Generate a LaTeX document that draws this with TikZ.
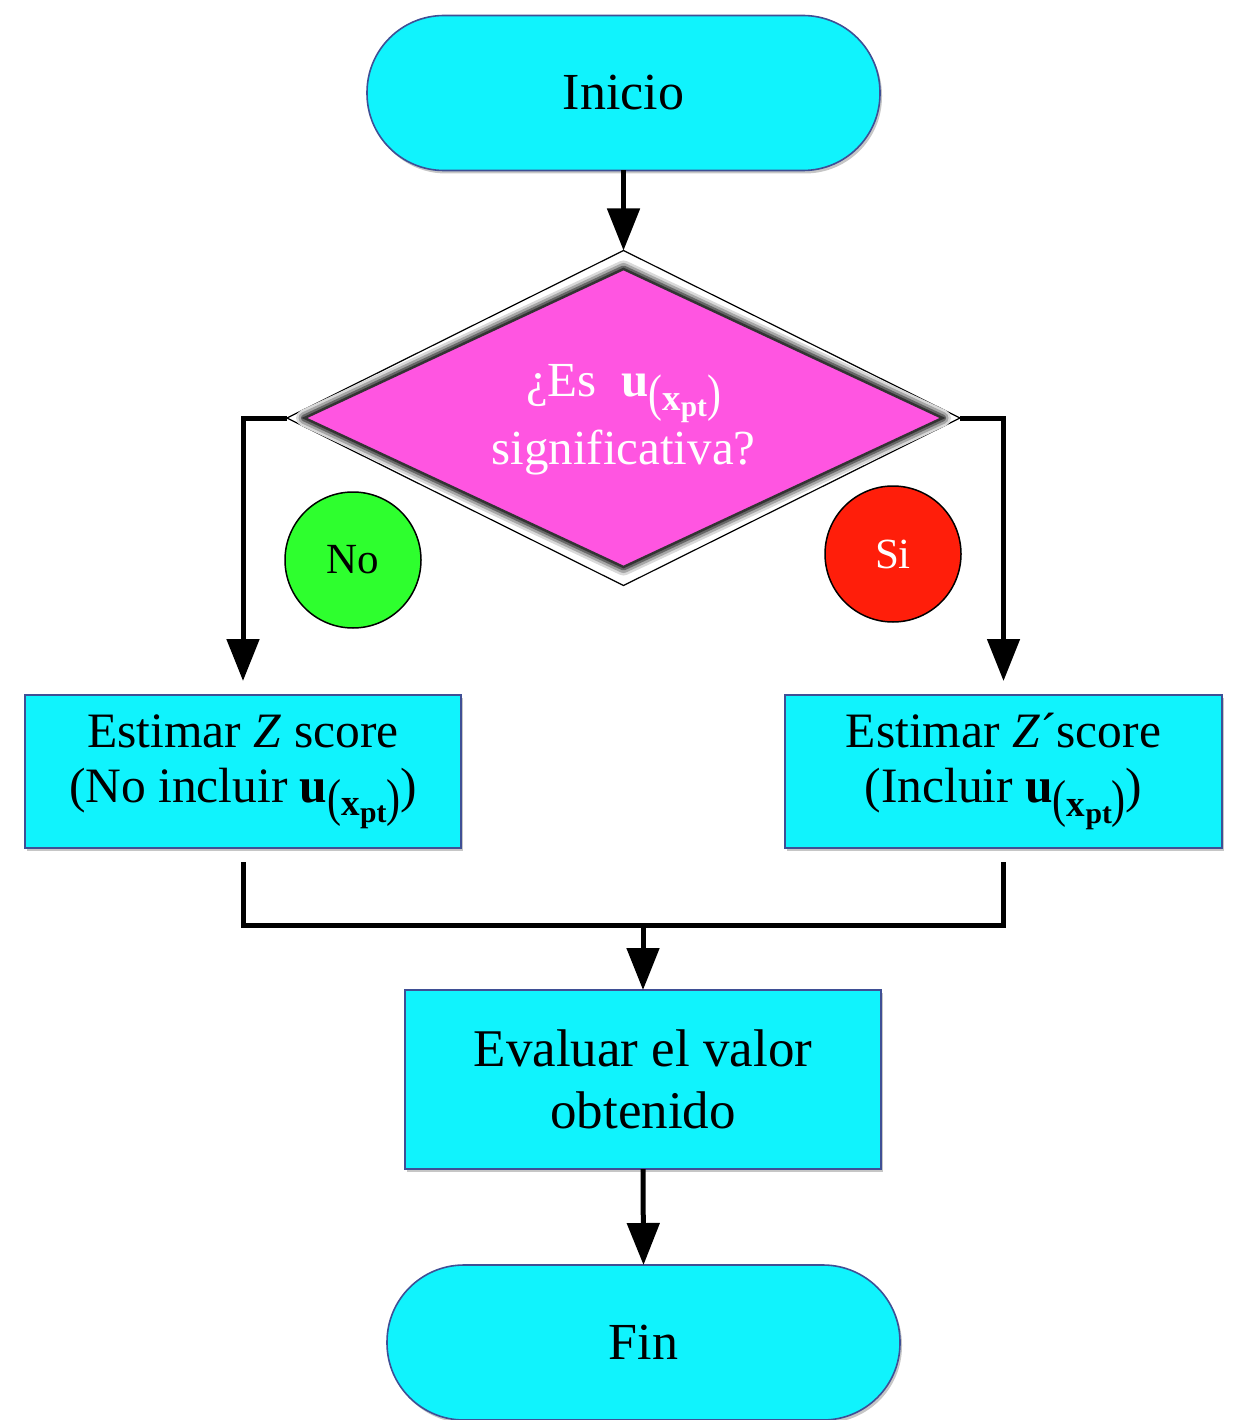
\documentclass[tikz,border=0pt]{standalone}
\usepackage{fontspec}
\setmainfont{Liberation Serif}
\usetikzlibrary{shapes.geometric,arrows.meta,shadows}
\definecolor{cyanbox}{HTML}{10F3FD}
\definecolor{boxline}{HTML}{3F4F95}
\definecolor{magbox}{HTML}{FF55E1}
\definecolor{nogreen}{HTML}{2EFF2E}
\definecolor{sired}{HTML}{FF1E0A}
\newcommand\uxpt{\textbf{u}\raisebox{-0.6ex}{\scalebox{0.85}[1.05]{(}\scalebox{0.75}{\textbf{x}\raisebox{-0.4ex}{\scalebox{0.8}{\textbf{pt}}}}\scalebox{0.85}[1.05]{)}}}
\begin{document}
\begin{tikzpicture}[x=1pt,y=-1pt,
  shadowed/.style={drop shadow={shadow xshift=2pt,shadow yshift=-3pt,opacity=0.45}},
  pill/.style={draw=boxline,line width=1.6pt,fill=cyanbox,rounded corners=77pt,
    minimum width=513pt,minimum height=155pt,inner sep=0pt,outer sep=0pt,
    font=\fontsize{52pt}{60pt}\selectfont,shadowed},
  procbox/.style={draw=boxline,line width=1.6pt,fill=cyanbox,align=center,
    inner sep=0pt,outer sep=0pt,shadowed},
  flowline/.style={line width=5pt,black},
  arr/.style={flowline,-{Triangle[width=32pt,length=42pt]}},
  badge/.style={circle,draw=black,line width=1.5pt,minimum size=136pt,inner sep=0pt,
    font=\fontsize{43pt}{48pt}\selectfont}
]
\useasboundingbox (0,0) rectangle (1235,1420);

% start
\node[pill] (ini) at (623.5,93) {Inicio};

% decision
\node[diamond,draw=black,line width=1.2pt,fill=white,minimum width=673pt,
  minimum height=335pt,inner sep=0pt,outer sep=0pt] (dia) at (623.5,418) {};
\node[diamond,aspect=2.14,fill=magbox,draw=black!80,line width=2.5pt,
  minimum width=638pt,minimum height=298pt,inner sep=0pt,outer sep=0pt,
  preaction={draw=black!15,line width=17pt,line join=round},
  preaction={draw=black!35,line width=12pt,line join=round},
  preaction={draw=black!60,line width=7pt,line join=round}] (diain) at (623.5,418) {};
\node[text=white,align=center,font=\fontsize{49pt}{68pt}\selectfont] (qtxt) at (623.5,420)
  {¿Es\ \ \uxpt\\significativa?};

% badges
\node[badge,fill=nogreen] (no) at (353,560) {No};
\node[badge,fill=sired,text=white] (si) at (893,554) {Si};

% process boxes
\node[procbox,minimum width=436pt,minimum height=153pt,
  font=\fontsize{49.5pt}{55pt}\selectfont] (boxL) at (243,771.5)
  {Estimar \textit{Z} score\\(No incluir \uxpt)};
\node[procbox,minimum width=437pt,minimum height=153pt,
  font=\fontsize{49.5pt}{55pt}\selectfont] (boxR) at (1003.5,771.5)
  {Estimar \textit{Z}´score\\(Incluir \uxpt)};
\node[procbox,minimum width=476pt,minimum height=179pt,
  font=\fontsize{53pt}{62pt}\selectfont] (eval) at (643,1079.5)
  {Evaluar el valor\\obtenido};

% end
\node[pill] (fin) at (643.5,1342.5) {Fin};

% connectors
\coordinate (mC) at (643,925);
\draw[arr] (ini.south) -- (dia.north);
\draw[arr,shorten >=14pt] (dia.west) -| (boxL.north);
\draw[arr,shorten >=14pt] (dia.east) -| (boxR.north);
\draw[flowline,shorten <=14pt] (boxL.south) |- (mC);
\draw[flowline,shorten <=14pt] (boxR.south) |- (mC);
\draw[arr] (mC) -- (eval.north);
\draw[arr] (eval.south) -- (fin.north);
\end{tikzpicture}
\end{document}
